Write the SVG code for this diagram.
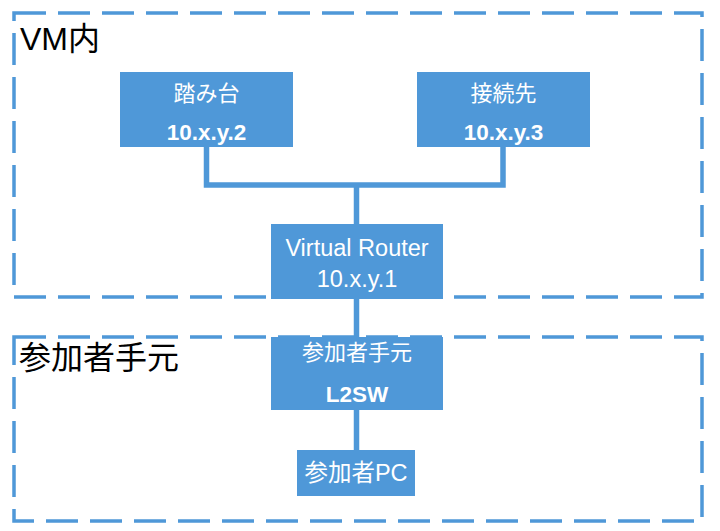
<svg xmlns="http://www.w3.org/2000/svg" width="720" height="531" viewBox="0 0 720 531">
<style>
.zone{fill:none;stroke:#4f98d8;stroke-width:3.5;stroke-dasharray:32 12}
.node{fill:#4f98d8}
.wire{fill:none;stroke:#4f98d8;stroke-width:5.5}
.zl{font-family:"Liberation Sans","Noto Sans CJK JP",sans-serif;font-size:32px;fill:#000}
.t{font-family:"Liberation Sans","Noto Sans CJK JP",sans-serif;font-size:22px;fill:#fff;text-anchor:middle}
.r{font-size:23.5px}
.b{font-weight:bold;font-size:22.5px}
</style>
<rect width="720" height="531" fill="#fff"/>
<g id="zone-vm"><rect class="zone" x="14" y="13" width="688" height="284"/><text class="zl" x="20" y="50">VM内</text></g>
<g id="zone-participant"><rect class="zone" x="14" y="337" width="688" height="184"/><text class="zl" x="19" y="369">参加者手元</text></g>
<g id="connectors">
<polyline class="wire" points="206.5,147 206.5,185 503,185 503,147"/>
<line class="wire" x1="356.5" y1="185" x2="356.5" y2="224"/>
<line class="wire" x1="356.5" y1="299" x2="356.5" y2="337"/>
<line class="wire" x1="356.5" y1="410" x2="356.5" y2="450"/>
</g>
<g id="node-fumidai"><rect class="node" x="120" y="72" width="173" height="75"/><text class="t" x="206.5" y="101">踏み台</text><text class="t b" x="206.5" y="140">10.x.y.2</text></g>
<g id="node-setsuzokusaki"><rect class="node" x="417" y="72" width="173" height="75"/><text class="t" x="503.5" y="101">接続先</text><text class="t b" x="503.5" y="140">10.x.y.3</text></g>
<g id="node-router"><rect class="node" x="271" y="224" width="172" height="75"/><text class="t r" x="357" y="256">Virtual Router</text><text class="t r" x="357" y="287">10.x.y.1</text></g>
<g id="node-l2sw"><rect class="node" x="271" y="337" width="172" height="73"/><text class="t" x="357" y="360">参加者手元</text><text class="t b" x="357" y="402">L2SW</text></g>
<g id="node-pc"><rect class="node" x="297" y="450" width="118" height="46"/><text class="t r" x="356" y="481">参加者PC</text></g>
</svg>
